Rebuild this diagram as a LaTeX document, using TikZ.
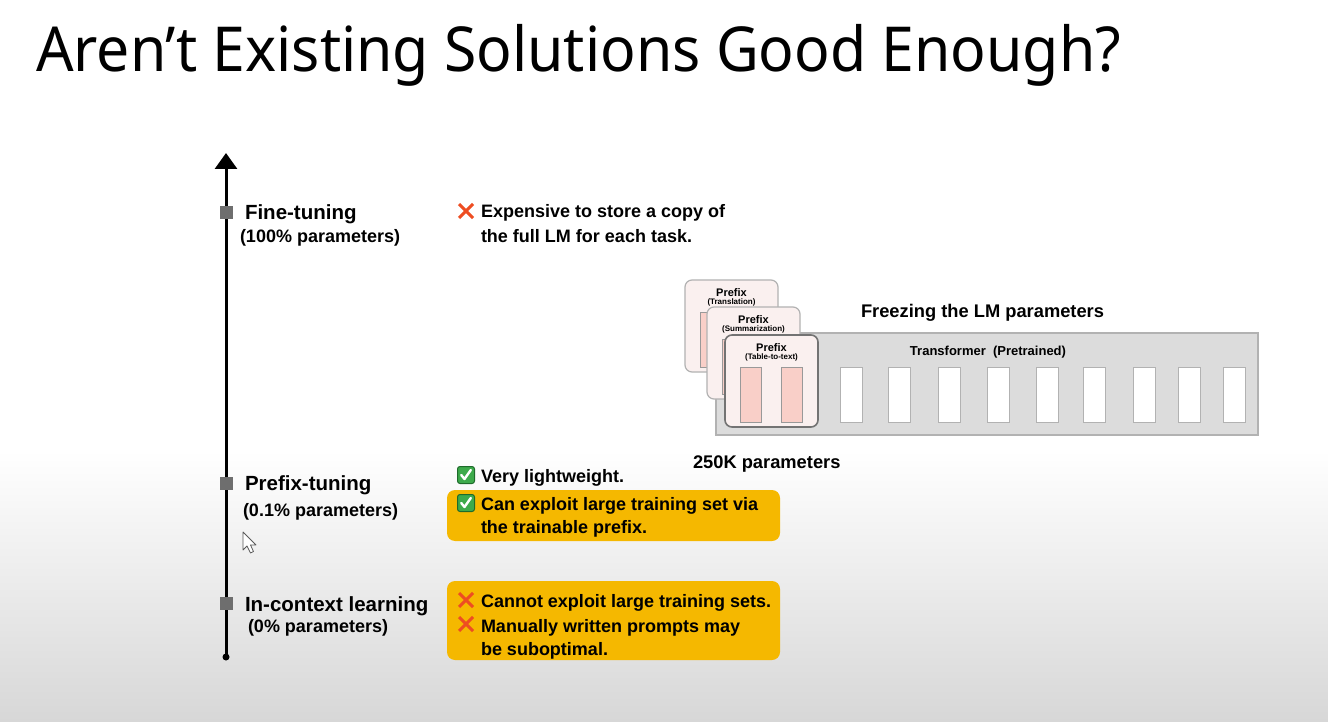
\documentclass[tikz,border=0pt]{standalone}
\usepackage{fontspec}
\setmainfont{Liberation Sans}
\newfontfamily\titlefont{Noto Sans}
\usetikzlibrary{arrows.meta}
\definecolor{amber}{HTML}{F5B800}
\definecolor{xred}{HTML}{EE4D22}
\definecolor{ckgreen}{HTML}{3DAA4B}
\definecolor{ckdark}{HTML}{1E6B2B}
\definecolor{cardfill}{HTML}{FAF0EF}
\definecolor{pinkblk}{HTML}{F9CFC8}
\definecolor{tfill}{HTML}{DCDCDC}
\definecolor{bggray}{HTML}{D7D7D7}
\definecolor{markgray}{HTML}{6E6E6E}
\begin{document}
\begin{tikzpicture}[x=1pt,y=-1pt,
  every node/.style={inner sep=0pt, outer sep=0pt},
  lbl/.style={anchor=base west, font=\bfseries\fontsize{20.5}{24}\selectfont},
  sublbl/.style={anchor=base west, font=\bfseries\fontsize{18}{22}\selectfont},
  body/.style={anchor=base west, font=\bfseries\fontsize{18}{22}\selectfont},
  axmk/.style={fill=markgray, minimum size=13pt},
  obox/.style={fill=amber, rounded corners=8pt, anchor=north west},
  tbox/.style={fill=tfill, draw=black!30, line width=1.2pt, anchor=north west},
  wblk/.style={fill=white, draw=black!30, line width=1pt, anchor=north west, minimum width=22pt, minimum height=55pt},
  pblk/.style={fill=pinkblk, draw=black!40, line width=1pt, anchor=north west, minimum width=21pt, minimum height=55pt},
  card/.style={fill=cardfill, draw=black!30, line width=1.2pt, rounded corners=7pt, anchor=north west, minimum width=93pt, minimum height=92pt},
  cardtitle/.style={font=\bfseries\fontsize{11}{12}\selectfont},
  cardsub/.style={font=\bfseries\fontsize{8}{9}\selectfont},
  xmk/.pic={\draw[xred, line width=3pt] (-7,-7) -- (7,7) (-7,7) -- (7,-7);},
  ckm/.pic={\draw[fill=ckgreen, draw=ckdark, line width=1pt, rounded corners=2.5pt] (-8.5,-8.5) rectangle (8.5,8.5);
            \draw[white, line width=2.4pt, line cap=round, line join=round] (-4.8,0) -- (-1.5,4) -- (4.8,-5);}
]
% background
\useasboundingbox (0,0) rectangle (1328,722);
\fill[white] (0,0) rectangle (1328,722);
\shade[top color=white, bottom color=bggray] (0,450) rectangle (1328,722);

% title
\node[anchor=base west, font=\titlefont\fontsize{62}{70}\selectfont] (title) at (36,72) {\scalebox{0.95}[1]{Aren’t Existing Solutions Good Enough?}};

% axis
\coordinate (axbot) at (226,657);
\coordinate (axtop) at (226,153);
\draw[line width=3pt, -{Triangle[width=22pt,length=16pt]}] (axbot) -- (axtop);
\fill (axbot) circle (3.5pt);
\node[axmk] (m1) at (226,213) {};
\node[axmk] (m2) at (226,483) {};
\node[axmk] (m3) at (226,603) {};

% axis labels
\node[lbl] (ft) at (245,220) {Fine-tuning};
\node[sublbl] (ftp) at (240,243) {(100\% parameters)};
\node[lbl] (pt) at (245,490) {Prefix-tuning};
\node[sublbl] (ptp) at (243,516) {(0.1\% parameters)};
\node[lbl] (icl) at (245,611) {In-context learning};
\node[sublbl] (iclp) at (248,632) {(0\% parameters)};

% cursor
\draw[black!65, fill=white, line width=0.8pt, line join=round] (243,532) -- (243,550) -- (247,546) -- (250.5,553) -- (253.5,551.5) -- (250.5,545) -- (256,545) -- cycle;

% fine-tuning notes
\pic at (466,211) {xmk};
\node[body] (e1) at (481,218) {Expensive to store a copy of};
\node[body] (e2) at (481,243) {the full LM for each task.};

% prefix-tuning notes
\pic at (466,475) {ckm};
\node[body] (v1) at (481,482) {Very lightweight.};
\node[obox, minimum width=333pt, minimum height=51pt] (ob1) at (447,490) {};
\pic at (466,503) {ckm};
\node[body] (c1) at (481,510) {Can exploit large training set via};
\node[body] (c2) at (481,533) {the trainable prefix.};

% in-context notes
\node[obox, minimum width=333pt, minimum height=79pt] (ob2) at (447,581) {};
\pic at (466,600) {xmk};
\node[body] (n1) at (481,607) {Cannot exploit large training sets.};
\pic at (466,624) {xmk};
\node[body] (n2) at (481,632) {Manually written prompts may};
\node[body] (n3) at (481,655) {be suboptimal.};

% transformer
\node[tbox, minimum width=542pt, minimum height=102pt] (tf) at (716,333) {};
\node[anchor=base, font=\bfseries\fontsize{13}{15}\selectfont] (tft) at (988,355) {Transformer\ \ (Pretrained)};
\foreach \x [count=\i] in {840,888,938,987,1036,1083,1133,1178,1223}
  \node[wblk] (b\i) at (\x,367) {};

\node[anchor=base west, font=\bfseries\fontsize{18.3}{20}\selectfont] (frz) at (861,317) {Freezing the LM parameters};
\node[anchor=base west, font=\bfseries\fontsize{18.3}{20}\selectfont] (k250) at (693,468) {250K parameters};

% prefix cards
\foreach \cx/\cy/\nm/\sub/\lw/\dc in {685/280/c1/Translation/1.2/black!30, 707/307/c2/Summarization/1.2/black!30, 725/335/c3/Table-to-text/1.6/black!55} {
  \node[card, draw=\dc, line width=\lw pt] (\nm) at (\cx,\cy) {};
  \node[cardtitle] (\nm t) at (\cx+46.5,\cy+13) {Prefix};
  \node[cardsub] (\nm s) at (\cx+46.5,\cy+22.5) {(\sub)};
  \node[pblk] (\nm p1) at (\cx+15,\cy+32) {};
  \node[pblk] (\nm p2) at (\cx+56,\cy+32) {};
}
\end{tikzpicture}
\end{document}
